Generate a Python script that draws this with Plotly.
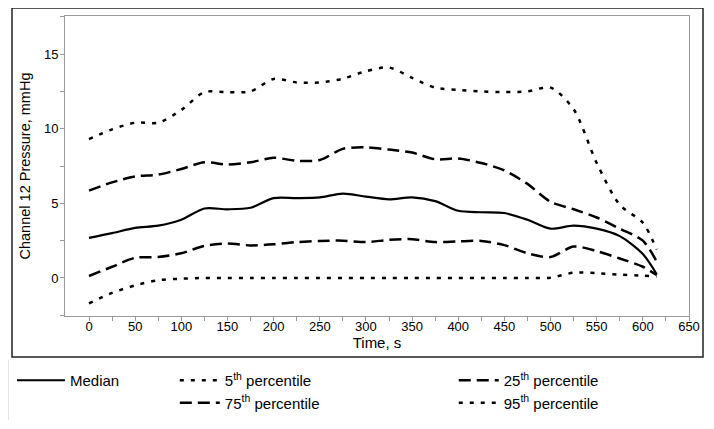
import plotly.graph_objects as go

time_s = [0, 25, 50, 75, 100, 125, 150, 175, 200, 225, 250, 275, 300, 325, 350,
          375, 400, 425, 450, 475, 500, 525, 550, 575, 600, 615]

median = [2.68, 3.0, 3.35, 3.5, 3.9, 4.65, 4.6, 4.7, 5.35, 5.35, 5.4, 5.65, 5.45, 5.27, 5.4,
          5.15, 4.5, 4.4, 4.35, 3.9, 3.3, 3.5, 3.3, 2.8, 1.6, 0.25]
p5 = [-1.7, -1.0, -0.5, -0.15, -0.05, 0.0, 0.0, 0.0, 0.0, 0.0, 0.0, 0.0, 0.0, 0.0, 0.0,
      0.0, 0.0, 0.0, 0.0, 0.0, 0.02, 0.35, 0.32, 0.22, 0.15, 0.1]
p25 = [0.13, 0.75, 1.35, 1.4, 1.65, 2.15, 2.3, 2.18, 2.25, 2.4, 2.48, 2.5, 2.4, 2.55, 2.6,
       2.4, 2.45, 2.48, 2.2, 1.65, 1.4, 2.1, 1.8, 1.3, 0.75, 0.2]
p75 = [5.85, 6.4, 6.8, 6.92, 7.3, 7.75, 7.6, 7.75, 8.05, 7.85, 7.9, 8.65, 8.75, 8.6, 8.4,
       7.95, 8.0, 7.7, 7.2, 6.3, 5.1, 4.6, 4.05, 3.3, 2.5, 1.1]
p95 = [9.3, 9.95, 10.4, 10.4, 11.25, 12.45, 12.45, 12.5, 13.33, 13.1, 13.1, 13.35, 13.85, 14.1, 13.4,
       12.75, 12.6, 12.5, 12.45, 12.5, 12.75, 11.3, 7.7, 4.9, 3.7, 1.9]

x_tick_step = 25
x_label_step = 50
y_tick_vals = [-2.5, 0, 2.5, 5, 7.5, 10, 12.5, 15, 17.5]
y_tick_text = ["", "0", "", "5", "", "10", "", "15", ""]

FONT = "Liberation Sans, Arial, sans-serif"
DOT = "4px,7px"
DASH = "12px,6px"

fig = go.Figure()
series = [
    ("Median", median, "solid", 2.2, "legend"),
    ("5<sup>th</sup> percentile", p5, DOT, 2.5, "legend2"),
    ("75<sup>th</sup> percentile", p75, DASH, 2.5, "legend2"),
    ("25<sup>th</sup> percentile", p25, DASH, 2.5, "legend3"),
    ("95<sup>th</sup> percentile", p95, DOT, 2.5, "legend3"),
]
for name, vals, dash, w, lg in series:
    fig.add_trace(go.Scatter(
        x=time_s, y=vals, name=name, mode="lines", showlegend=True,
        line=dict(color="black", width=w, dash=dash, shape="spline", smoothing=0.8),
        legend=lg,
    ))

axis_common = dict(
    showgrid=False, zeroline=False, showline=True, linecolor="#9a9a9a", linewidth=1,
    mirror=True, ticks="outside", ticklen=4, tickcolor="#9a9a9a", automargin=False,
    tickfont=dict(family=FONT, size=13, color="black"),
)

xtv = list(range(0, 651, x_tick_step))
legend_font = dict(family=FONT, size=15, color="black")
legend_common = dict(yanchor="top", xanchor="left", orientation="v", font=legend_font,
                     bgcolor="rgba(0,0,0,0)", tracegroupgap=0, visible=True)
# the page body has an 8px margin; the figure is sized to fill the rest of the window
fig.update_layout(
    width=706, height=421,
    margin=dict(l=57, r=25, t=8, b=113, autoexpand=False),
    paper_bgcolor="white", plot_bgcolor="white",
    font=dict(family=FONT, color="black"),
    showlegend=True,
    xaxis=dict(range=[-26, 650], tickvals=xtv,
               ticktext=[str(v) if v % x_label_step == 0 else "" for v in xtv],
               ticklabelstandoff=-6,
               title=dict(text="Time, s", font=dict(family=FONT, size=15), standoff=3),
               **axis_common),
    yaxis=dict(range=[-2.55, 17.55], tickvals=y_tick_vals, ticktext=y_tick_text,
               ticklabelstandoff=-1,
               title=dict(text="Channel 12 Pressure, mmHg", font=dict(family=FONT, size=14.5), standoff=9),
               **axis_common),
    legend=dict(x=-0.085, y=-0.16, itemwidth=48, **legend_common),
    legend2=dict(x=0.176, y=-0.16, itemwidth=40, **legend_common),
    legend3=dict(x=0.623, y=-0.16, itemwidth=40, **legend_common),
    shapes=[
        dict(type="rect", xref="paper", yref="paper",
             x0=(12 - 65) / 624, x1=(703 - 65) / 624,
             y0=(316 - 357) / 300, y1=(316 - 8) / 300,
             line=dict(color="#222222", width=1.5), fillcolor="rgba(0,0,0,0)", layer="below"),
        dict(type="line", xref="paper", yref="paper",
             x0=(8 - 65) / 624, x1=(8 - 65) / 624,
             y0=(316 - 360) / 300, y1=(316 - 420) / 300,
             line=dict(color="#cccccc", width=1)),
    ],
)

fig.write_html("out.html")
